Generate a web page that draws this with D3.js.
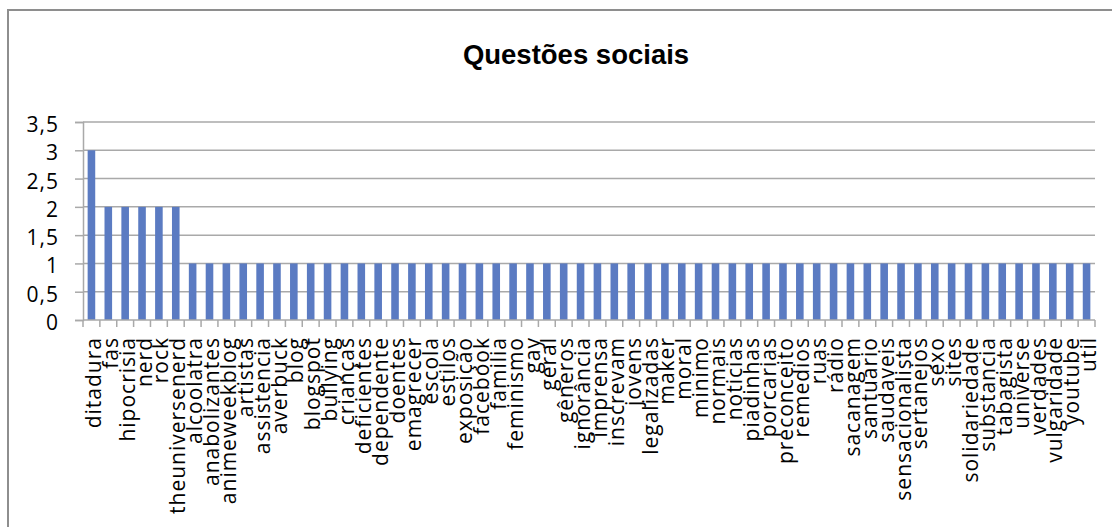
<!DOCTYPE html>
<html>
<head>
<meta charset="utf-8">
<script src="https://cdn.jsdelivr.net/npm/d3@7"></script>
<style>
  html, body { margin: 0; padding: 0; background: #fff; }
  svg { display: block; }
</style>
</head>
<body>
<svg id="chart" width="1112" height="527"></svg>
<script>
// Word counts for the "Questões sociais" category
const categories = [
  "ditadura", "fas", "hipocrisia", "nerd", "rock", "theuniversenerd",
  "alcoolatra", "anabolizantes", "animeweekblog", "artistas", "assistencia",
  "averbuck", "blog", "blogspot", "bullying", "crianças", "deficientes",
  "dependente", "doentes", "emagrecer", "escola", "estilos", "exposição",
  "facebook", "familia", "feminismo", "gay", "geral", "gêneros", "ignorância",
  "imprensa", "inscrevam", "jovens", "legalizadas", "maker", "moral",
  "minimo", "normais", "noticias", "piadinhas", "porcarias", "preconceito",
  "remedios", "ruas", "rádio", "sacanagem", "santuario", "saudaveis",
  "sensacionalista", "sertanejos", "sexo", "sites", "solidariedade",
  "substancia", "tabagista", "universe", "verdades", "vulgaridade",
  "youtube", "util"
];
const values = [
  3, 2, 2, 2, 2, 2,
  1, 1, 1, 1, 1, 1, 1, 1, 1, 1, 1, 1, 1, 1, 1, 1, 1, 1, 1, 1, 1, 1, 1, 1,
  1, 1, 1, 1, 1, 1, 1, 1, 1, 1, 1, 1, 1, 1, 1, 1, 1, 1, 1, 1, 1, 1, 1, 1,
  1, 1, 1, 1, 1, 1
];
const yTicks = [0, 0.5, 1, 1.5, 2, 2.5, 3, 3.5];
const chartTitle = "Questões sociais";

const data = categories.map((c, i) => ({ cat: c, val: values[i] }));

const svg = d3.select("#chart");
const plot = { left: 83, right: 1095, top: 122, bottom: 320 };
const labelFont = "'Open Sans', 'DejaVu Sans', sans-serif";
const gridColor = "#a9a9a9";

// Outer frame of the chart area
svg.append("rect")
  .attr("x", 8).attr("y", 10)
  .attr("width", 1200).attr("height", 600)
  .attr("fill", "#fff")
  .attr("stroke", "#8e8e8e")
  .attr("stroke-width", 2);

// Title
svg.append("text")
  .attr("x", 576).attr("y", 64)
  .attr("text-anchor", "middle")
  .attr("font-family", "'Liberation Sans', Arial, sans-serif")
  .attr("font-weight", "bold")
  .attr("font-size", 27.5)
  .attr("fill", "#000")
  .text(chartTitle);

const x = d3.scaleBand()
  .domain(categories)
  .range([plot.left, plot.right])
  .padding(0);

const y = d3.scaleLinear()
  .domain([0, 3.5])
  .range([plot.bottom, plot.top]);

// Horizontal gridlines
svg.append("g")
  .selectAll("line")
  .data(yTicks.filter(t => t > 0))
  .join("line")
  .attr("x1", plot.left).attr("x2", plot.right)
  .attr("y1", d => y(d)).attr("y2", d => y(d))
  .attr("stroke", gridColor)
  .attr("stroke-width", 1.5);

// Y axis
const yAxis = svg.append("g")
  .attr("transform", `translate(${plot.left},0)`)
  .call(d3.axisLeft(y).tickValues(yTicks).tickSize(8).tickPadding(16)
    .tickFormat(d => String(d).replace(".", ",")));
yAxis.select(".domain").attr("stroke", gridColor).attr("stroke-width", 1.5);
yAxis.selectAll(".tick line").attr("stroke", gridColor).attr("stroke-width", 1.5);
yAxis.selectAll(".tick text")
  .attr("font-family", labelFont)
  .attr("font-size", 21)
  .attr("letter-spacing", 1)
  .attr("fill", "#000")
  .attr("dy", "0.45em");

// Bars
const barW = x.bandwidth() * 0.45;
svg.append("g")
  .selectAll("rect")
  .data(data)
  .join("rect")
  .attr("x", d => x(d.cat) + (x.bandwidth() - barW) / 2)
  .attr("width", barW)
  .attr("y", d => y(d.val))
  .attr("height", d => y(0) - y(d.val))
  .attr("fill", "#5b7bc2");

// X axis line and category boundary ticks
svg.append("line")
  .attr("x1", plot.left).attr("x2", plot.right)
  .attr("y1", y(0)).attr("y2", y(0))
  .attr("stroke", gridColor).attr("stroke-width", 1.5);

const boundaries = categories.map(c => x(c)).concat([plot.right]);
svg.append("g")
  .selectAll("line")
  .data(boundaries)
  .join("line")
  .attr("x1", d => d).attr("x2", d => d)
  .attr("y1", y(0)).attr("y2", y(0) + 7)
  .attr("stroke", gridColor).attr("stroke-width", 1.5);

// Rotated category labels
svg.append("g")
  .selectAll("text")
  .data(categories)
  .join("text")
  .attr("transform", d => `translate(${x(d) + x.bandwidth() / 2 + 2},337) rotate(-90)`)
  .attr("text-anchor", "end")
  .attr("dy", "0.36em")
  .attr("font-family", labelFont)
  .attr("font-size", 21)
  .attr("letter-spacing", 1)
  .attr("fill", "#000")
  .text(d => d);
</script>
</body>
</html>
